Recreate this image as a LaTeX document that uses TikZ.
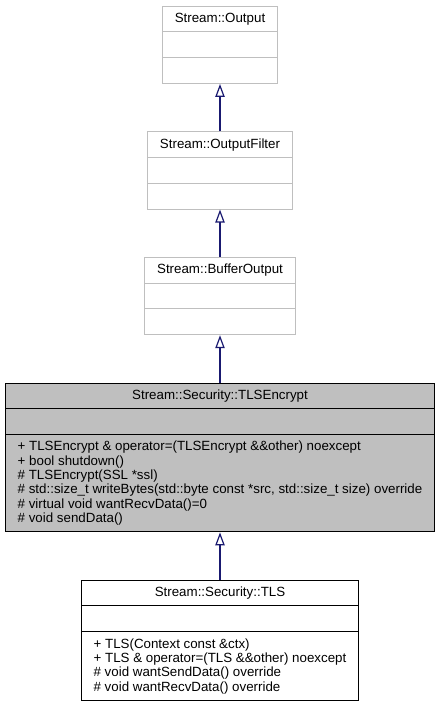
\documentclass[tikz,border=0pt]{standalone}
\usepackage{fontspec}
\setmainfont{Liberation Sans}
\usetikzlibrary{arrows.meta,positioning,shapes.multipart}
\definecolor{edgeblue}{HTML}{191970}
\definecolor{boxgray}{HTML}{BFBFBF}

\begin{document}
\begin{tikzpicture}[
  node distance=35.5pt,
  cls/.style={draw,rectangle split,rectangle split parts=3,
    rectangle split ignore empty parts=false,
    rectangle split empty part height=7.3pt,
    rectangle split empty part depth=2.1pt,
    rectangle split part align={center,left,left},
    inner xsep=9.2pt,inner ysep=4.6pt,line width=0.75pt,
    font=\fontsize{10}{10.75}\selectfont,align=left},
  base/.style={cls,draw=boxgray},
  inherit/.style={edgeblue,line width=0.9pt,-{Triangle[open,length=9.75pt,width=7pt]}}
]
  \useasboundingbox (0,0) rectangle (330pt,-530.25pt);

  \node[base,anchor=north] (output) at (165pt,-4.5pt)
    {Stream::Output\nodepart{two}\nodepart{three}};
  \node[base,below=of output] (filter)
    {Stream::OutputFilter\nodepart{two}\nodepart{three}};
  \node[base,below=of filter] (buffer)
    {Stream::BufferOutput\nodepart{two}\nodepart{three}};
  \node[cls,fill=boxgray,below=of buffer] (encrypt)
    {Stream::Security::TLSEncrypt\nodepart{two}\nodepart{three}
     + TLSEncrypt \& operator=(TLSEncrypt \&\&other) noexcept\\
     + bool shutdown()\\
     \# TLSEncrypt(SSL *ssl)\\
     \# std::size\_t writeBytes(std::byte const *src, std::size\_t size) override\\
     \# virtual void wantRecvData()=0\\
     \# void sendData()};
  \node[cls,fill=white,below=of encrypt] (tls)
    {Stream::Security::TLS\nodepart{two}\nodepart{three}
     + TLS(Context const \&ctx)\\
     + TLS \& operator=(TLS \&\&other) noexcept\\
     \# void wantSendData() override\\
     \# void wantRecvData() override};

  \draw[inherit] (filter.north) -- (output.south);
  \draw[inherit] (buffer.north) -- (filter.south);
  \draw[inherit] (encrypt.north) -- (buffer.south);
  \draw[inherit] (tls.north) -- (encrypt.south);
\end{tikzpicture}
\end{document}
